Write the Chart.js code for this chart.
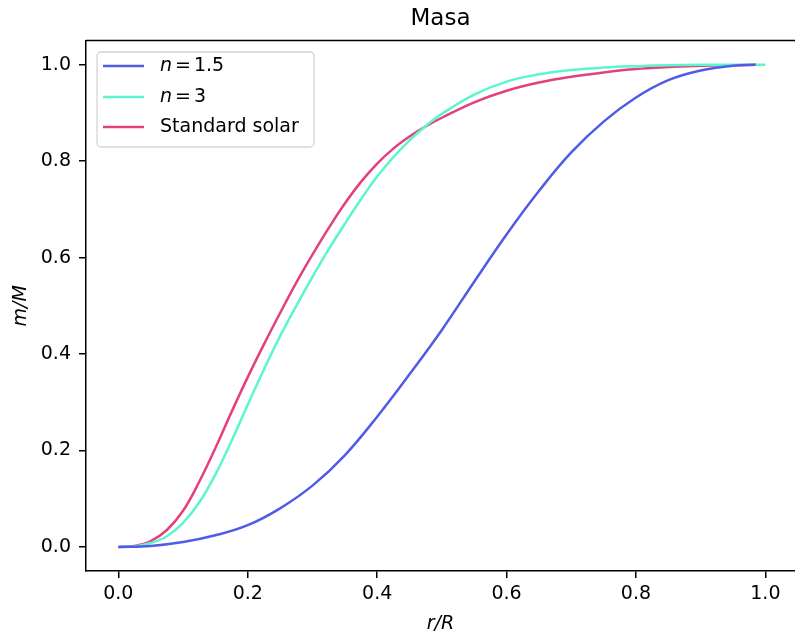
<!doctype html>
<html>

<head>
    <title>Masa</title>
    <script src="https://cdn.jsdelivr.net/npm/chart.js"></script>
</head>

<style>
    body { margin: 0; background: #fff; }
</style>

<body>
    <canvas id="masa" width="795" height="638"></canvas>

    <script>
        // r/R y m/M
        var rN15 = [0, 0.05, 0.1, 0.15, 0.2, 0.25, 0.3, 0.35, 0.4, 0.45, 0.5, 0.55, 0.6, 0.65, 0.7, 0.75, 0.8, 0.85, 0.9, 0.95, 0.985];
        var mN15 = [0, 0.002, 0.010, 0.024, 0.045, 0.08, 0.127, 0.19, 0.27, 0.358, 0.45, 0.55, 0.648, 0.738, 0.818, 0.882, 0.932, 0.968, 0.988, 0.998, 1.0];

        var rN3 = [0, 0.025, 0.05, 0.075, 0.1, 0.125, 0.15, 0.175, 0.2, 0.225, 0.25, 0.275, 0.3, 0.325, 0.35, 0.375, 0.4, 0.425, 0.45, 0.475, 0.5, 0.55, 0.6, 0.65, 0.7, 0.75, 0.8, 0.85, 0.9, 0.95, 1.0];
        var mN3 = [0, 0.001, 0.008, 0.022, 0.05, 0.092, 0.15, 0.22, 0.295, 0.368, 0.437, 0.5, 0.56, 0.617, 0.67, 0.721, 0.768, 0.808, 0.843, 0.873, 0.898, 0.938, 0.965, 0.98, 0.989, 0.994, 0.997, 0.999, 1.0, 1.0, 1.0];

        var rSol = [0, 0.025, 0.05, 0.075, 0.1, 0.125, 0.15, 0.175, 0.2, 0.225, 0.25, 0.275, 0.3, 0.325, 0.35, 0.375, 0.4, 0.425, 0.45, 0.475, 0.5, 0.55, 0.6, 0.65, 0.7, 0.75, 0.8, 0.85, 0.9, 0.95, 0.985];
        var mSol = [0, 0.002, 0.012, 0.035, 0.075, 0.135, 0.205, 0.28, 0.352, 0.42, 0.485, 0.548, 0.606, 0.661, 0.712, 0.757, 0.795, 0.826, 0.851, 0.872, 0.89, 0.922, 0.946, 0.963, 0.975, 0.984, 0.991, 0.995, 0.998, 0.999, 1.0];

        var etiquetas = ['n = 1.5', 'n = 3', 'Standard solar'];
        var colores = ['#515be6', '#5cf5d0', '#e3407c'];

        var ticksX = [0, 0.2, 0.4, 0.6, 0.8, 1.0];
        var ticksY = [0, 0.2, 0.4, 0.6, 0.8, 1.0];

        function puntos(xs, ys) {
            return xs.map((x, i) => ({ x: x, y: ys[i] }));
        }

        var fuente = 'DejaVu Sans';

        // marco superior + leyenda estilo matplotlib
        var marcoYLeyenda = {
            id: 'marcoYLeyenda',
            afterDraw(chart) {
                var ctx = chart.ctx;
                var a = chart.chartArea;
                ctx.save();
                ctx.strokeStyle = '#000';
                ctx.lineWidth = 1.5;
                ctx.beginPath();
                ctx.moveTo(a.left, a.top);
                ctx.lineTo(a.right, a.top);
                ctx.stroke();

                // caja
                var bx = 97, by = 52, bw = 217, bh = 95;
                ctx.beginPath();
                ctx.roundRect(bx, by, bw, bh, 4);
                ctx.fillStyle = 'rgba(255,255,255,0.8)';
                ctx.fill();
                ctx.strokeStyle = '#d5d5d5';
                ctx.lineWidth = 1.3;
                ctx.stroke();

                var ys = [66, 97, 127];
                ctx.textBaseline = 'middle';
                ctx.fillStyle = '#000';
                chart.data.datasets.forEach((ds, i) => {
                    var y = ys[i];
                    ctx.strokeStyle = ds.borderColor;
                    ctx.lineWidth = 2.5;
                    ctx.beginPath();
                    ctx.moveTo(103, y);
                    ctx.lineTo(144, y);
                    ctx.stroke();

                    var x = 160;
                    var txt = ds.label;
                    if (txt.indexOf('n = ') === 0) {
                        ctx.font = 'italic 19px "' + fuente + '"';
                        ctx.fillText('n', x, y);
                        x += ctx.measureText('n').width + 3;
                        ctx.font = '19px "' + fuente + '"';
                        ctx.fillText('=', x, y);
                        x += ctx.measureText('=').width + 3;
                        ctx.fillText(txt.slice(4), x, y);
                    } else {
                        ctx.font = '19px "' + fuente + '"';
                        ctx.fillText(txt, x, y);
                    }
                });
                ctx.restore();
            }
        };

        var grafico = new Chart(document.getElementById('masa').getContext('2d'), {
            type: 'line',
            data: {
                datasets: [{
                    label: etiquetas[0],
                    data: puntos(rN15, mN15),
                    borderColor: colores[0]
                }, {
                    label: etiquetas[1],
                    data: puntos(rN3, mN3),
                    borderColor: colores[1]
                }, {
                    label: etiquetas[2],
                    data: puntos(rSol, mSol),
                    borderColor: colores[2]
                }]
            },
            options: {
                responsive: false,
                animation: false,
                layout: { padding: 0 },
                elements: {
                    point: { radius: 0 },
                    line: { borderWidth: 2.5, tension: 0.4, capBezierPoints: true, fill: false }
                },
                plugins: {
                    legend: { display: false },
                    tooltip: { enabled: false },
                    title: {
                        display: true,
                        text: 'Masa',
                        fullSize: false,
                        color: '#000',
                        font: { family: fuente, size: 23, weight: 'normal' },
                        padding: { top: 5, bottom: 8 }
                    }
                },
                scales: {
                    x: {
                        type: 'linear',
                        min: -0.05,
                        max: 1.0458,
                        afterBuildTicks: (s) => { s.ticks = ticksX.map(v => ({ value: v })); },
                        afterFit: (s) => { s.height = 67; },
                        border: { display: true, color: '#000', width: 1.5 },
                        grid: { drawOnChartArea: false, drawTicks: true, tickLength: 7, color: '#000', lineWidth: 1.5 },
                        ticks: {
                            color: '#000',
                            padding: 5,
                            maxRotation: 0,
                            font: { family: fuente, size: 19 },
                            callback: (v) => v.toFixed(1)
                        },
                        title: {
                            display: true,
                            text: 'r/R',
                            color: '#000',
                            font: { family: fuente, size: 19, style: 'italic' },
                            padding: { top: 0, bottom: 3 }
                        }
                    },
                    y: {
                        type: 'linear',
                        min: -0.05,
                        max: 1.05,
                        afterBuildTicks: (s) => { s.ticks = ticksY.map(v => ({ value: v })); },
                        afterFit: (s) => { s.width = 86; },
                        border: { display: true, color: '#000', width: 1.5 },
                        grid: { drawOnChartArea: false, drawTicks: true, tickLength: 7, color: '#000', lineWidth: 1.5 },
                        ticks: {
                            color: '#000',
                            padding: 8,
                            font: { family: fuente, size: 19 },
                            callback: (v) => v.toFixed(1)
                        },
                        title: {
                            display: true,
                            text: 'm/M',
                            color: '#000',
                            font: { family: fuente, size: 19, style: 'italic' },
                            padding: { top: 10, bottom: 0 }
                        }
                    }
                }
            },
            plugins: [marcoYLeyenda]
        });
    </script>
</body>

</html>
